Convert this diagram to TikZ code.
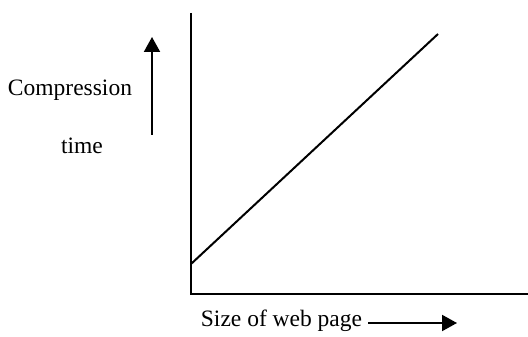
\documentclass[tikz,border=0pt]{standalone}
\usepackage{fontspec}
\setmainfont{Liberation Serif}
\usetikzlibrary{arrows.meta}
\tikzstyle{axe}=[line width=1pt]
\tikzstyle{courbe}=[line width=1pt]
\tikzstyle{fleche}=[line width=1pt,-{Triangle[length=7.5pt,width=8pt]}]
\tikzstyle{legende}=[font=\fontsize{11.75}{14}\selectfont,inner sep=0pt,anchor=base]
\begin{document}
\begin{tikzpicture}[x=0.5pt,y=0.5pt]
\useasboundingbox (0,0) rectangle (528,336);
%axes
\coordinate (o) at (191,42);
\coordinate (ytop) at (191,323);
\coordinate (xend) at (528,42);
\coordinate (d1) at (191,72);
\coordinate (d2) at (438,302);
\coordinate (up1) at (152,201);
\coordinate (up2) at (152,299);
\coordinate (r1) at (368,13);
\coordinate (r2) at (457,13);
%textes
\node[legende] (comp) at (70,240) {Compression};
\node[legende] (time) at (82,182) {time};
\node[legende] (size) at (281.5,10) {Size of web page};
%traits
\draw[axe] (ytop) -- (o) -- (xend);
\draw[courbe] (d1) -- (d2);
\draw[fleche] (up1) -- (up2);
\draw[fleche] (r1) -- (r2);
\end{tikzpicture}
\end{document}
